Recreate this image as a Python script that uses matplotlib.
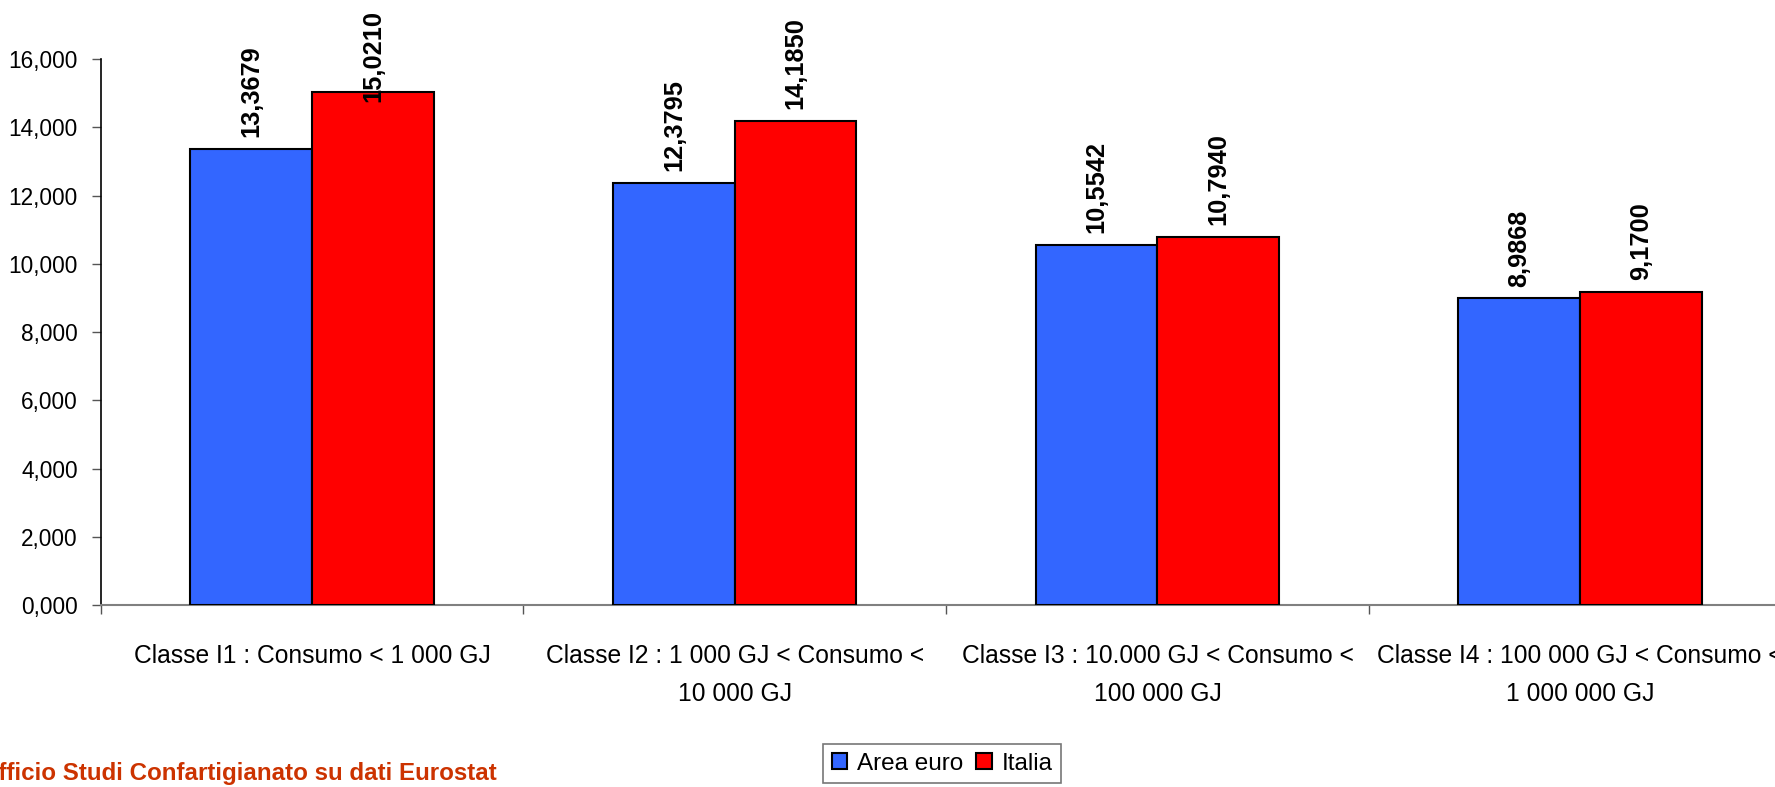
import matplotlib
matplotlib.use("Agg")
import matplotlib.pyplot as plt
from matplotlib import font_manager
from matplotlib.patches import Patch
from matplotlib.ticker import FixedLocator, FuncFormatter

# ---- data -------------------------------------------------------------
categories = [
    "Classe I1 : Consumo < 1 000 GJ",
    "Classe I2 : 1 000 GJ < Consumo <\n10 000 GJ",
    "Classe I3 : 10.000 GJ < Consumo <\n100 000 GJ",
    "Classe I4 : 100 000 GJ < Consumo <\n1 000 000 GJ",
]
area_euro = [13.3679, 12.3795, 10.5542, 8.9868]
italia = [15.0210, 14.1850, 10.7940, 9.1700]
series_names = ["Area euro", "Italia"]
y_ticks = [0, 2, 4, 6, 8, 10, 12, 14, 16]
source_text = "Ufficio Studi Confartigianato su dati Eurostat"

# ---- fonts ------------------------------------------------------------
def pick(*names):
    for n in names:
        try:
            font_manager.findfont(font_manager.FontProperties(family=n),
                                  fallback_to_default=False)
            return n
        except Exception:
            pass
    return None

SANS = pick("Liberation Sans", "Arial") or "DejaVu Sans"
NARROW = pick("Liberation Sans Narrow", "Arial Narrow")
plt.rcParams["font.family"] = [SANS, "DejaVu Sans"]
if NARROW:
    value_font, value_size = NARROW, 21.5
else:
    value_font, value_size = SANS, 18.3

BLUE = "#3366FF"
RED = "#FF0000"
DPI = 100
W, H = 1775, 787

fig = plt.figure(figsize=(W / DPI, H / DPI), dpi=DPI)
fig.patch.set_facecolor("white")

# plot area: y axis at x=100.7 px, zero line at y=605.3 px, 16 at y=59 px
ax_left, ax_right = 100.7, 1791.5
ax_bottom, ax_top = 605.3, 59.0
ax = fig.add_axes([ax_left / W, (H - ax_bottom) / H,
                   (ax_right - ax_left) / W, (ax_bottom - ax_top) / H])

x = list(range(len(categories)))
bw = 0.288
b1 = ax.bar([i - bw / 2 for i in x], area_euro, width=bw, color=BLUE,
            edgecolor="black", linewidth=1.5, label=series_names[0], zorder=3)
b2 = ax.bar([i + bw / 2 for i in x], italia, width=bw, color=RED,
            edgecolor="black", linewidth=1.5, label=series_names[1], zorder=3)

ax.set_xlim(-0.5, len(categories) - 0.5)
ax.set_ylim(0, 16)

# y axis
ax.yaxis.set_major_locator(FixedLocator(y_ticks))
ax.yaxis.set_major_formatter(
    FuncFormatter(lambda v, p: f"{v:.3f}".replace(".", ",")))
ax.tick_params(axis="y", direction="out", length=6.5, width=1,
               color="#555555", pad=10, labelsize=16.3, labelcolor="black")

# x axis: labels centred on categories, tick marks on boundaries
ax.set_xticks(x)
ax.set_xticklabels(categories, fontsize=17.7, linespacing=1.72)
ax.tick_params(axis="x", which="major", length=0, pad=28)
ax.set_xticks([i - 0.5 for i in range(len(categories) + 1)], minor=True)
ax.tick_params(axis="x", which="minor", direction="out", length=6.5,
               width=1, color="#555555")

for side in ("top", "right"):
    ax.spines[side].set_visible(False)
ax.spines["left"].set_color("black")
ax.spines["left"].set_linewidth(1.2)
ax.spines["bottom"].set_color("#808080")
ax.spines["bottom"].set_linewidth(1.5)

# value labels above bars
fmt = lambda v: f"{v:.4f}".replace(".", ",")
labels = []
for bars, vals in ((b1, area_euro), (b2, italia)):
    for rect, v in zip(bars, vals):
        t = ax.annotate(fmt(v), xy=(rect.get_x() + rect.get_width() / 2, v),
                        xytext=(0, 8.6), textcoords="offset points",
                        rotation=90, ha="center", va="bottom",
                        fontfamily=value_font, fontweight="bold",
                        fontsize=value_size, color="black", zorder=5,
                        annotation_clip=False)
        labels.append(t)

# keep labels inside the chart area (10 px from the top edge)
fig.canvas.draw()
renderer = fig.canvas.get_renderer()
limit = H - 10
for t in labels:
    bb = t.get_window_extent(renderer)
    if bb.y1 > limit:
        shift = (bb.y1 - limit) * 72 / DPI
        t.xyann = (0, 8.6 - shift)

# legend
handles = [Patch(facecolor=BLUE, edgecolor="black", linewidth=1.5),
           Patch(facecolor=RED, edgecolor="black", linewidth=1.5)]
leg = fig.legend(handles, series_names, loc="upper left",
                 bbox_to_anchor=(823.3 / W, 1 - 744.3 / H), ncol=2,
                 fontsize=17.5, frameon=True, fancybox=False, shadow=False,
                 handlelength=0.62, handleheight=0.62, handletextpad=0.42,
                 columnspacing=0.55, borderpad=0.34, borderaxespad=0)
leg.get_frame().set_edgecolor("#555555")
leg.get_frame().set_linewidth(1.2)

# source note
fig.text(497 / W, (H - 780) / H, source_text, ha="right", va="baseline",
         fontsize=17.4, fontweight="bold", color="#CC3300")

fig.savefig("out.png", dpi=DPI, facecolor="white")
